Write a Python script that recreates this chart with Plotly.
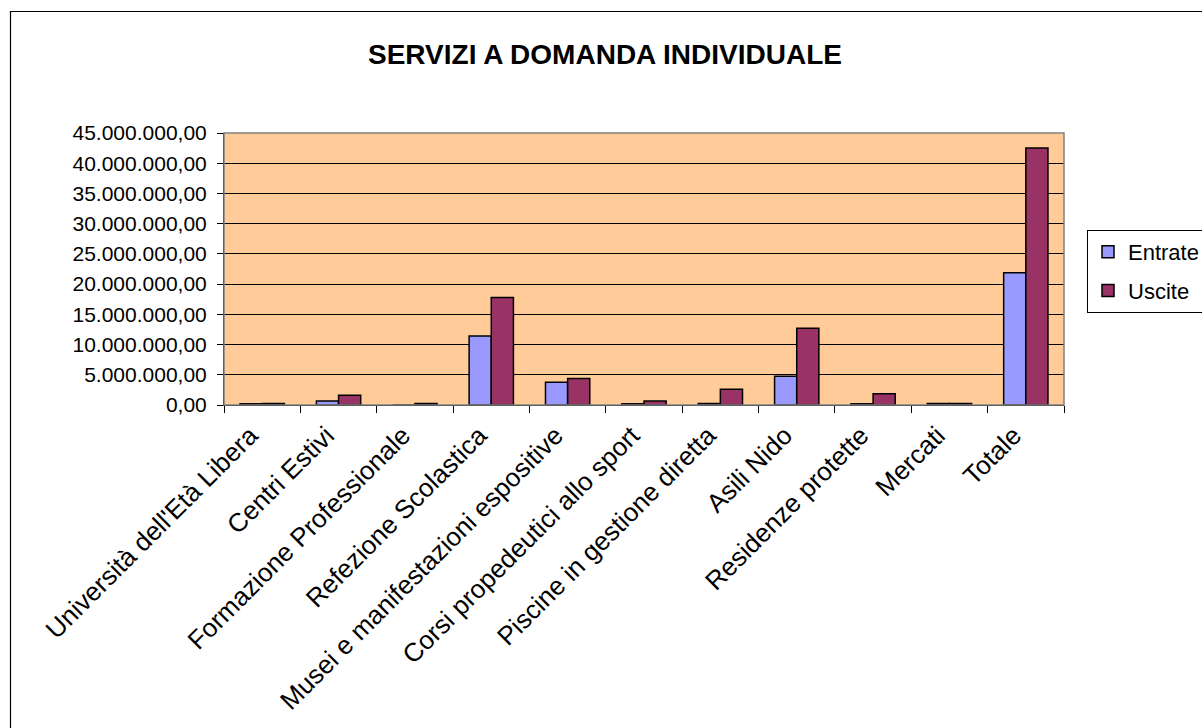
import plotly.graph_objects as go

# Servizi a domanda individuale: entrate e uscite per servizio (euro)
categorie = [
    "Università dell'Età Libera",
    "Centri Estivi",
    "Formazione Professionale",
    "Refezione Scolastica",
    "Musei e manifestazioni espositive",
    "Corsi propedeutici allo sport",
    "Piscine in gestione diretta",
    "Asili Nido",
    "Residenze protette",
    "Mercati",
    "Totale",
]
entrate = [200000, 650000, 0, 11400000, 3750000, 200000, 250000,
           4750000, 200000, 250000, 21900000]
uscite = [250000, 1600000, 250000, 17800000, 4400000, 650000, 2600000,
          12700000, 1850000, 250000, 42500000]

titolo = "SERVIZI A DOMANDA INDIVIDUALE"
y_ticks = [0, 5e6, 10e6, 15e6, 20e6, 25e6, 30e6, 35e6, 40e6, 45e6]

FONT = "Arial, 'Liberation Sans', sans-serif"
W, H = 1202, 728
ML, MR, MT, MB = 224, 138, 133, 323
PW = W - ML - MR
PH = H - MT - MB


def px_x(p):
    return (p - ML) / PW


def px_y(p):
    return (H - MB - p) / PH


fig = go.Figure()
fig.add_trace(go.Bar(
    x=categorie, y=entrate, name="Entrate", legendgroup="e",
    marker=dict(color="#9999FF", line=dict(color="#000000", width=1.5)),
))
fig.add_trace(go.Bar(
    x=categorie, y=uscite, name="Uscite", legendgroup="u",
    marker=dict(color="#993366", line=dict(color="#000000", width=1.5)),
))

fig.update_layout(
    width=W, height=H,
    margin=dict(l=ML, r=MR, t=MT, b=MB, autoexpand=False),
    paper_bgcolor="#FFFFFF",
    plot_bgcolor="#FFCC99",
    separators=",.",
    barmode="group",
    bargap=0.42,
    bargroupgap=0,
    font=dict(family=FONT, size=21, color="#000000"),
    title=dict(
        text="<b>" + titolo + "</b>",
        font=dict(family=FONT, size=28, color="#000000"),
        x=605 / W, xref="container", xanchor="center",
        y=1 - 54 / H, yref="container", yanchor="middle",
    ),
    xaxis=dict(
        type="category",
        tickangle=-45,
        tickson="boundaries",
        ticks="outside", ticklen=7, tickcolor="#000000", tickwidth=1,
        showline=True, linecolor="#000000", linewidth=1,
        showgrid=False,
        ticklabelshift=-12,
        ticklabelstandoff=4,
        tickfont=dict(family=FONT, size=26, color="#000000"),
    ),
    yaxis=dict(
        range=[0, 45e6],
        tickvals=y_ticks,
        tickformat=",.2f",
        ticks="outside", ticklen=6, tickcolor="#000000", tickwidth=1,
        showline=True, linecolor="#000000", linewidth=1,
        showgrid=True, gridcolor="#000000", gridwidth=1,
        zeroline=False,
        ticklabelstandoff=6,
        tickfont=dict(family=FONT, size=21, color="#000000"),
    ),
    legend=dict(
        x=px_x(1087), y=px_y(230), xanchor="left", yanchor="top",
        bordercolor="#000000", borderwidth=1, bgcolor="#FFFFFF",
        font=dict(family=FONT, size=22, color="#000000"),
        traceorder="grouped", tracegroupgap=7,
        itemwidth=30,
    ),
    showlegend=True,
)

# Cornice grigia attorno all'area del grafico
fig.add_shape(type="rect", xref="paper", yref="paper",
              x0=0, x1=1, y0=0, y1=1,
              line=dict(color="#808080", width=1.5), layer="above")
# Cornice esterna del foglio
fig.add_shape(type="rect", xref="paper", yref="paper",
              x0=px_x(10.5), x1=px_x(1240), y0=px_y(760), y1=px_y(11.5),
              line=dict(color="#000000", width=1.2), layer="below")

fig.write_html("out.html")
